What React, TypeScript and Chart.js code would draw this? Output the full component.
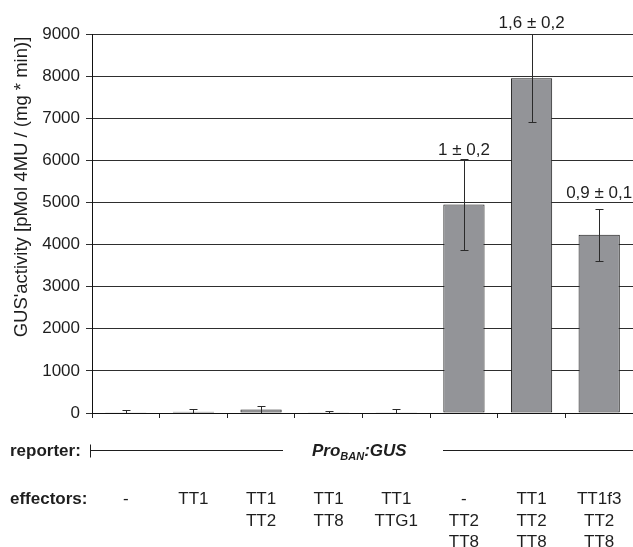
import React, { useEffect, useRef } from "react";
import { Chart, registerables } from "chart.js";

Chart.register(...registerables);

// ---------- data ----------
const effectorLabels: string[][] = [
  ["-"],
  ["TT1"],
  ["TT1", "TT2"],
  ["TT1", "TT8"],
  ["TT1", "TTG1"],
  ["-", "TT2", "TT8"],
  ["TT1", "TT2", "TT8"],
  ["TT1f3", "TT2", "TT8"],
];
const gusActivity = [5, 30, 85, 5, 5, 4950, 7950, 4230];
const gusError = [55, 60, 80, 50, 80, 1090, 1045, 620];
const foldLabels = ["", "", "", "", "", "1 ± 0,2", "1,6 ± 0,2", "0,9 ± 0,1"];
const yTickValues = [0, 1000, 2000, 3000, 4000, 5000, 6000, 7000, 8000, 9000];
const yTitle = "GUS'activity [pMol 4MU / (mg * min)]";
const reporterName = { main: "Pro", sub: "BAN", tail: ":GUS" };

// ---------- layout / style ----------
const FONT = "'Liberation Sans', Arial, Helvetica, sans-serif";
const TEXT = "#1e1e1e";
const labelLift = [0, 0, 0, 0, 0, 4, 6, 11];

const overlayPlugin = {
  id: "overlay",
  afterDatasetsDraw(chart: any) {
    const ctx: CanvasRenderingContext2D = chart.ctx;
    const xs = chart.scales.x;
    const ys = chart.scales.y;
    const area = chart.chartArea;

    // error bars
    ctx.save();
    ctx.beginPath();
    ctx.rect(area.left, area.top - 1, area.right - area.left, area.bottom - area.top + 1);
    ctx.clip();
    ctx.strokeStyle = "#2a2a2a";
    ctx.lineWidth = 1;
    gusActivity.forEach((v, i) => {
      const cx = Math.round(xs.getPixelForValue(i)) + 0.5;
      const yt = Math.round(ys.getPixelForValue(v + gusError[i])) + 0.5;
      const yb = Math.round(ys.getPixelForValue(v - gusError[i])) + 0.5;
      ctx.beginPath();
      ctx.moveTo(cx, yt);
      ctx.lineTo(cx, yb);
      ctx.moveTo(cx - 4, yt);
      ctx.lineTo(cx + 4, yt);
      ctx.moveTo(cx - 4, yb);
      ctx.lineTo(cx + 4, yb);
      ctx.stroke();
    });
    ctx.restore();

    // fold labels
    ctx.save();
    ctx.fillStyle = TEXT;
    ctx.font = `17px ${FONT}`;
    ctx.textAlign = "center";
    ctx.textBaseline = "alphabetic";
    foldLabels.forEach((t, i) => {
      if (!t) return;
      const cx = xs.getPixelForValue(i);
      const yt = ys.getPixelForValue(gusActivity[i] + gusError[i]);
      ctx.fillText(t, cx, yt - labelLift[i]);
    });
    ctx.restore();
  },
  afterDraw(chart: any) {
    const ctx: CanvasRenderingContext2D = chart.ctx;
    const xs = chart.scales.x;
    const area = chart.chartArea;

    // y title
    ctx.save();
    ctx.fillStyle = TEXT;
    ctx.font = `18.5px ${FONT}`;
    ctx.translate(22, 187);
    ctx.rotate(-Math.PI / 2);
    ctx.textAlign = "center";
    ctx.textBaseline = "middle";
    ctx.fillText(yTitle, 0, 0);
    ctx.restore();

    // reporter row
    ctx.save();
    ctx.fillStyle = TEXT;
    ctx.strokeStyle = "#1e1e1e";
    ctx.lineWidth = 1;
    ctx.font = `bold 17px ${FONT}`;
    ctx.textAlign = "left";
    ctx.textBaseline = "alphabetic";
    ctx.fillText("reporter:", 10, 456);
    const ly = 450.5;
    const lx0 = Math.round(area.left) - 1.5;
    ctx.beginPath();
    ctx.moveTo(lx0, ly - 6);
    ctx.lineTo(lx0, ly + 7);
    ctx.moveTo(lx0, ly);
    ctx.lineTo(283, ly);
    ctx.moveTo(443, ly);
    ctx.lineTo(area.right, ly);
    ctx.stroke();
    // Pro_BAN:GUS
    let px = 312;
    ctx.font = `italic bold 17px ${FONT}`;
    ctx.fillText(reporterName.main, px, 456);
    px += ctx.measureText(reporterName.main).width;
    ctx.font = `italic bold 11px ${FONT}`;
    ctx.fillText(reporterName.sub, px, 460);
    px += ctx.measureText(reporterName.sub).width;
    ctx.font = `italic bold 17px ${FONT}`;
    ctx.fillText(reporterName.tail, px, 456);
    ctx.restore();

    // effectors rows
    ctx.save();
    ctx.fillStyle = TEXT;
    ctx.font = `bold 17px ${FONT}`;
    ctx.textAlign = "left";
    ctx.textBaseline = "alphabetic";
    ctx.fillText("effectors:", 10, 504);
    ctx.font = `17px ${FONT}`;
    ctx.textAlign = "center";
    const labels = chart.data.labels as string[][];
    labels.forEach((lines, i) => {
      const cx = xs.getPixelForValue(i);
      lines.forEach((ln, r) => {
        ctx.fillText(ln, cx, 504 + r * 21.5);
      });
    });
    ctx.restore();
  },
};

export default function App() {
  const canvasRef = useRef<HTMLCanvasElement | null>(null);

  useEffect(() => {
    document.body.style.margin = "0";
    const canvas = canvasRef.current;
    if (!canvas) return;
    const chart = new Chart(canvas, {
      type: "bar",
      data: {
        labels: effectorLabels,
        datasets: [
          {
            data: gusActivity,
            backgroundColor: "#939498",
            borderColor: "#1a1a1a",
            borderWidth: 1,
            borderSkipped: false,
            categoryPercentage: 1,
            barPercentage: 0.61,
          },
        ],
      },
      options: {
        animation: false,
        responsive: false,
        maintainAspectRatio: false,
        devicePixelRatio: 1,
        layout: { padding: { top: 34, left: 0, right: 0, bottom: 0 } },
        plugins: {
          legend: { display: false },
          tooltip: { enabled: false },
          title: { display: false },
        },
        scales: {
          x: {
            type: "category",
            offset: true,
            grid: {
              display: true,
              offset: true,
              drawOnChartArea: false,
              drawTicks: true,
              tickLength: 5,
              color: "#222222",
            },
            border: { display: true, color: "#111111", width: 1 },
            ticks: { display: false },
            afterFit: (scale: any) => {
              scale.height = 134;
            },
          },
          y: {
            min: 0,
            max: 9000,
            afterBuildTicks: (scale: any) => {
              scale.ticks = yTickValues.map((v) => ({ value: v }));
            },
            grid: {
              color: "#2e2e2e",
              lineWidth: 1,
              tickLength: 6,
              drawTicks: true,
            },
            border: { display: true, color: "#111111", width: 1 },
            ticks: {
              padding: 6,
              color: TEXT,
              font: { family: FONT, size: 17 },
              callback: (v: any) => String(v),
            },
            afterFit: (scale: any) => {
              scale.width = 92;
            },
          },
        },
      },
      plugins: [overlayPlugin],
    } as any);
    return () => chart.destroy();
  }, []);

  return (
    <div style={{ position: "absolute", left: 0, top: 0, width: 633, height: 547 }}>
      <canvas ref={canvasRef} width={633} height={547} style={{ width: 633, height: 547, display: "block" }} />
    </div>
  );
}
